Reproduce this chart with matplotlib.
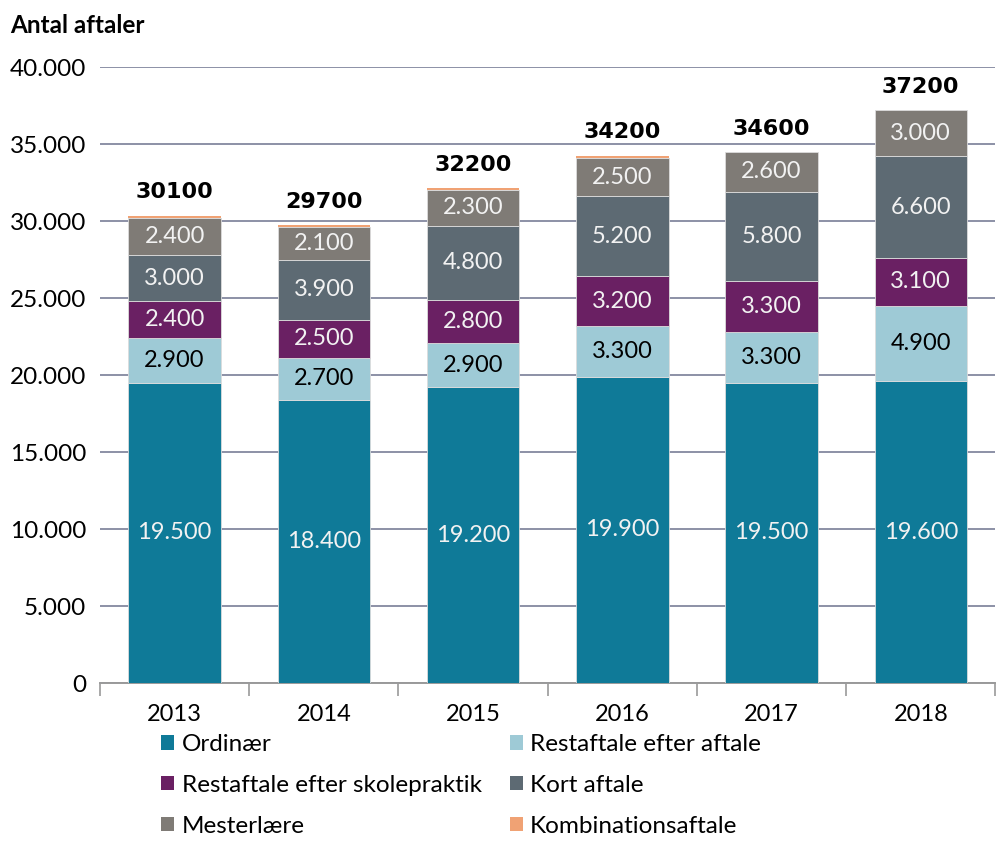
import matplotlib
matplotlib.use("Agg")
import matplotlib.pyplot as plt
import numpy as np
from matplotlib.patches import Patch

years = ["2013", "2014", "2015", "2016", "2017", "2018"]
series_names = ["Ordinær", "Restaftale efter aftale", "Restaftale efter skolepraktik",
                "Kort aftale", "Mesterlære", "Kombinationsaftale"]
ordinaer = [19500, 18400, 19200, 19900, 19500, 19600]
restaftale_aftale = [2900, 2700, 2900, 3300, 3300, 4900]
restaftale_skole = [2400, 2500, 2800, 3200, 3300, 3100]
kort_aftale = [3000, 3900, 4800, 5200, 5800, 6600]
mesterlaere = [2400, 2100, 2300, 2500, 2600, 3000]
kombination = [150, 150, 150, 150, 0, 0]
totals = [30100, 29700, 32200, 34200, 34600, 37200]
yticks = [0, 5000, 10000, 15000, 20000, 25000, 30000, 35000, 40000]
ytick_labels = ["0", "5.000", "10.000", "15.000", "20.000", "25.000", "30.000", "35.000", "40.000"]

colors = ["#0f7a98", "#9ecad6", "#6a2063", "#5d6a73", "#7f7b76", "#f0a274"]
text_colors = ["#f2f2f2", "#000000", "#f2f2f2", "#f2f2f2", "#f2f2f2", None]

plt.rcParams['font.family'] = ['Lato', 'DejaVu Sans']

fig = plt.figure(figsize=(9.96, 8.42), dpi=100)
ax = fig.add_axes([0.1004, 0.1888, 0.899, 0.7316])

x = np.arange(len(years))
data = [ordinaer, restaftale_aftale, restaftale_skole, kort_aftale, mesterlaere, kombination]
bottom = np.zeros(len(years))
for vals, col, tcol in zip(data, colors, text_colors):
    vals = np.array(vals, dtype=float)
    lw = 0.6 if tcol is not None else 0
    ax.bar(x, vals, width=0.62, bottom=bottom, color=col, edgecolor="#dcdcdc",
           linewidth=lw, zorder=3)
    if tcol is not None:
        for xi, b, v in zip(x, bottom, vals):
            ax.text(xi, b + v / 2, f"{int(v):,}".replace(",", "."), ha="center",
                    va="center", color=tcol, fontsize=17, zorder=4)
    bottom += vals

for xi, t, top in zip(x, totals, bottom):
    ax.annotate(str(t), (xi, top), xytext=(0, 9.5), textcoords="offset points",
                ha="center", va="bottom", fontsize=16, fontweight="bold",
                family="DejaVu Sans", color="black")

ax.set_ylim(0, 40000)
ax.set_xlim(-0.5, len(years) - 0.5)
ax.set_yticks(yticks)
ax.set_yticklabels(ytick_labels, fontsize=17.5)
ax.yaxis.grid(True, color="#8c90a6", linewidth=1.4, zorder=0)
ax.set_axisbelow(True)
ax.tick_params(axis="y", length=0, pad=10)
ax.set_xticks(x)
ax.set_xticklabels(years, fontsize=17)
ax.set_xticks(np.arange(-0.5, len(years), 1.0), minor=True)
ax.tick_params(axis="x", which="major", length=0, pad=15)
ax.tick_params(axis="x", which="minor", length=9, width=1.2, color="#9a9a9a")
for s in ["top", "right", "left"]:
    ax.spines[s].set_visible(False)
ax.spines["bottom"].set_color("#9a9a9a")
ax.spines["bottom"].set_linewidth(1.4)

fig.text(0.01, 0.97, "Antal aftaler", fontsize=17.5, fontweight="bold", va="center", ha="left")

handles = [Patch(facecolor=c, edgecolor="none") for c in colors]
order = [0, 2, 4, 1, 3, 5]
fig.legend([handles[i] for i in order], [series_names[i] for i in order],
           loc="upper left", bbox_to_anchor=(0.1616, 0.1285), ncol=2, frameon=False,
           fontsize=17.5, handlelength=0.55, handleheight=0.55, handletextpad=0.3,
           labelspacing=0.82, columnspacing=1.15, borderaxespad=0, borderpad=0)

fig.savefig("out.png", dpi=100)
